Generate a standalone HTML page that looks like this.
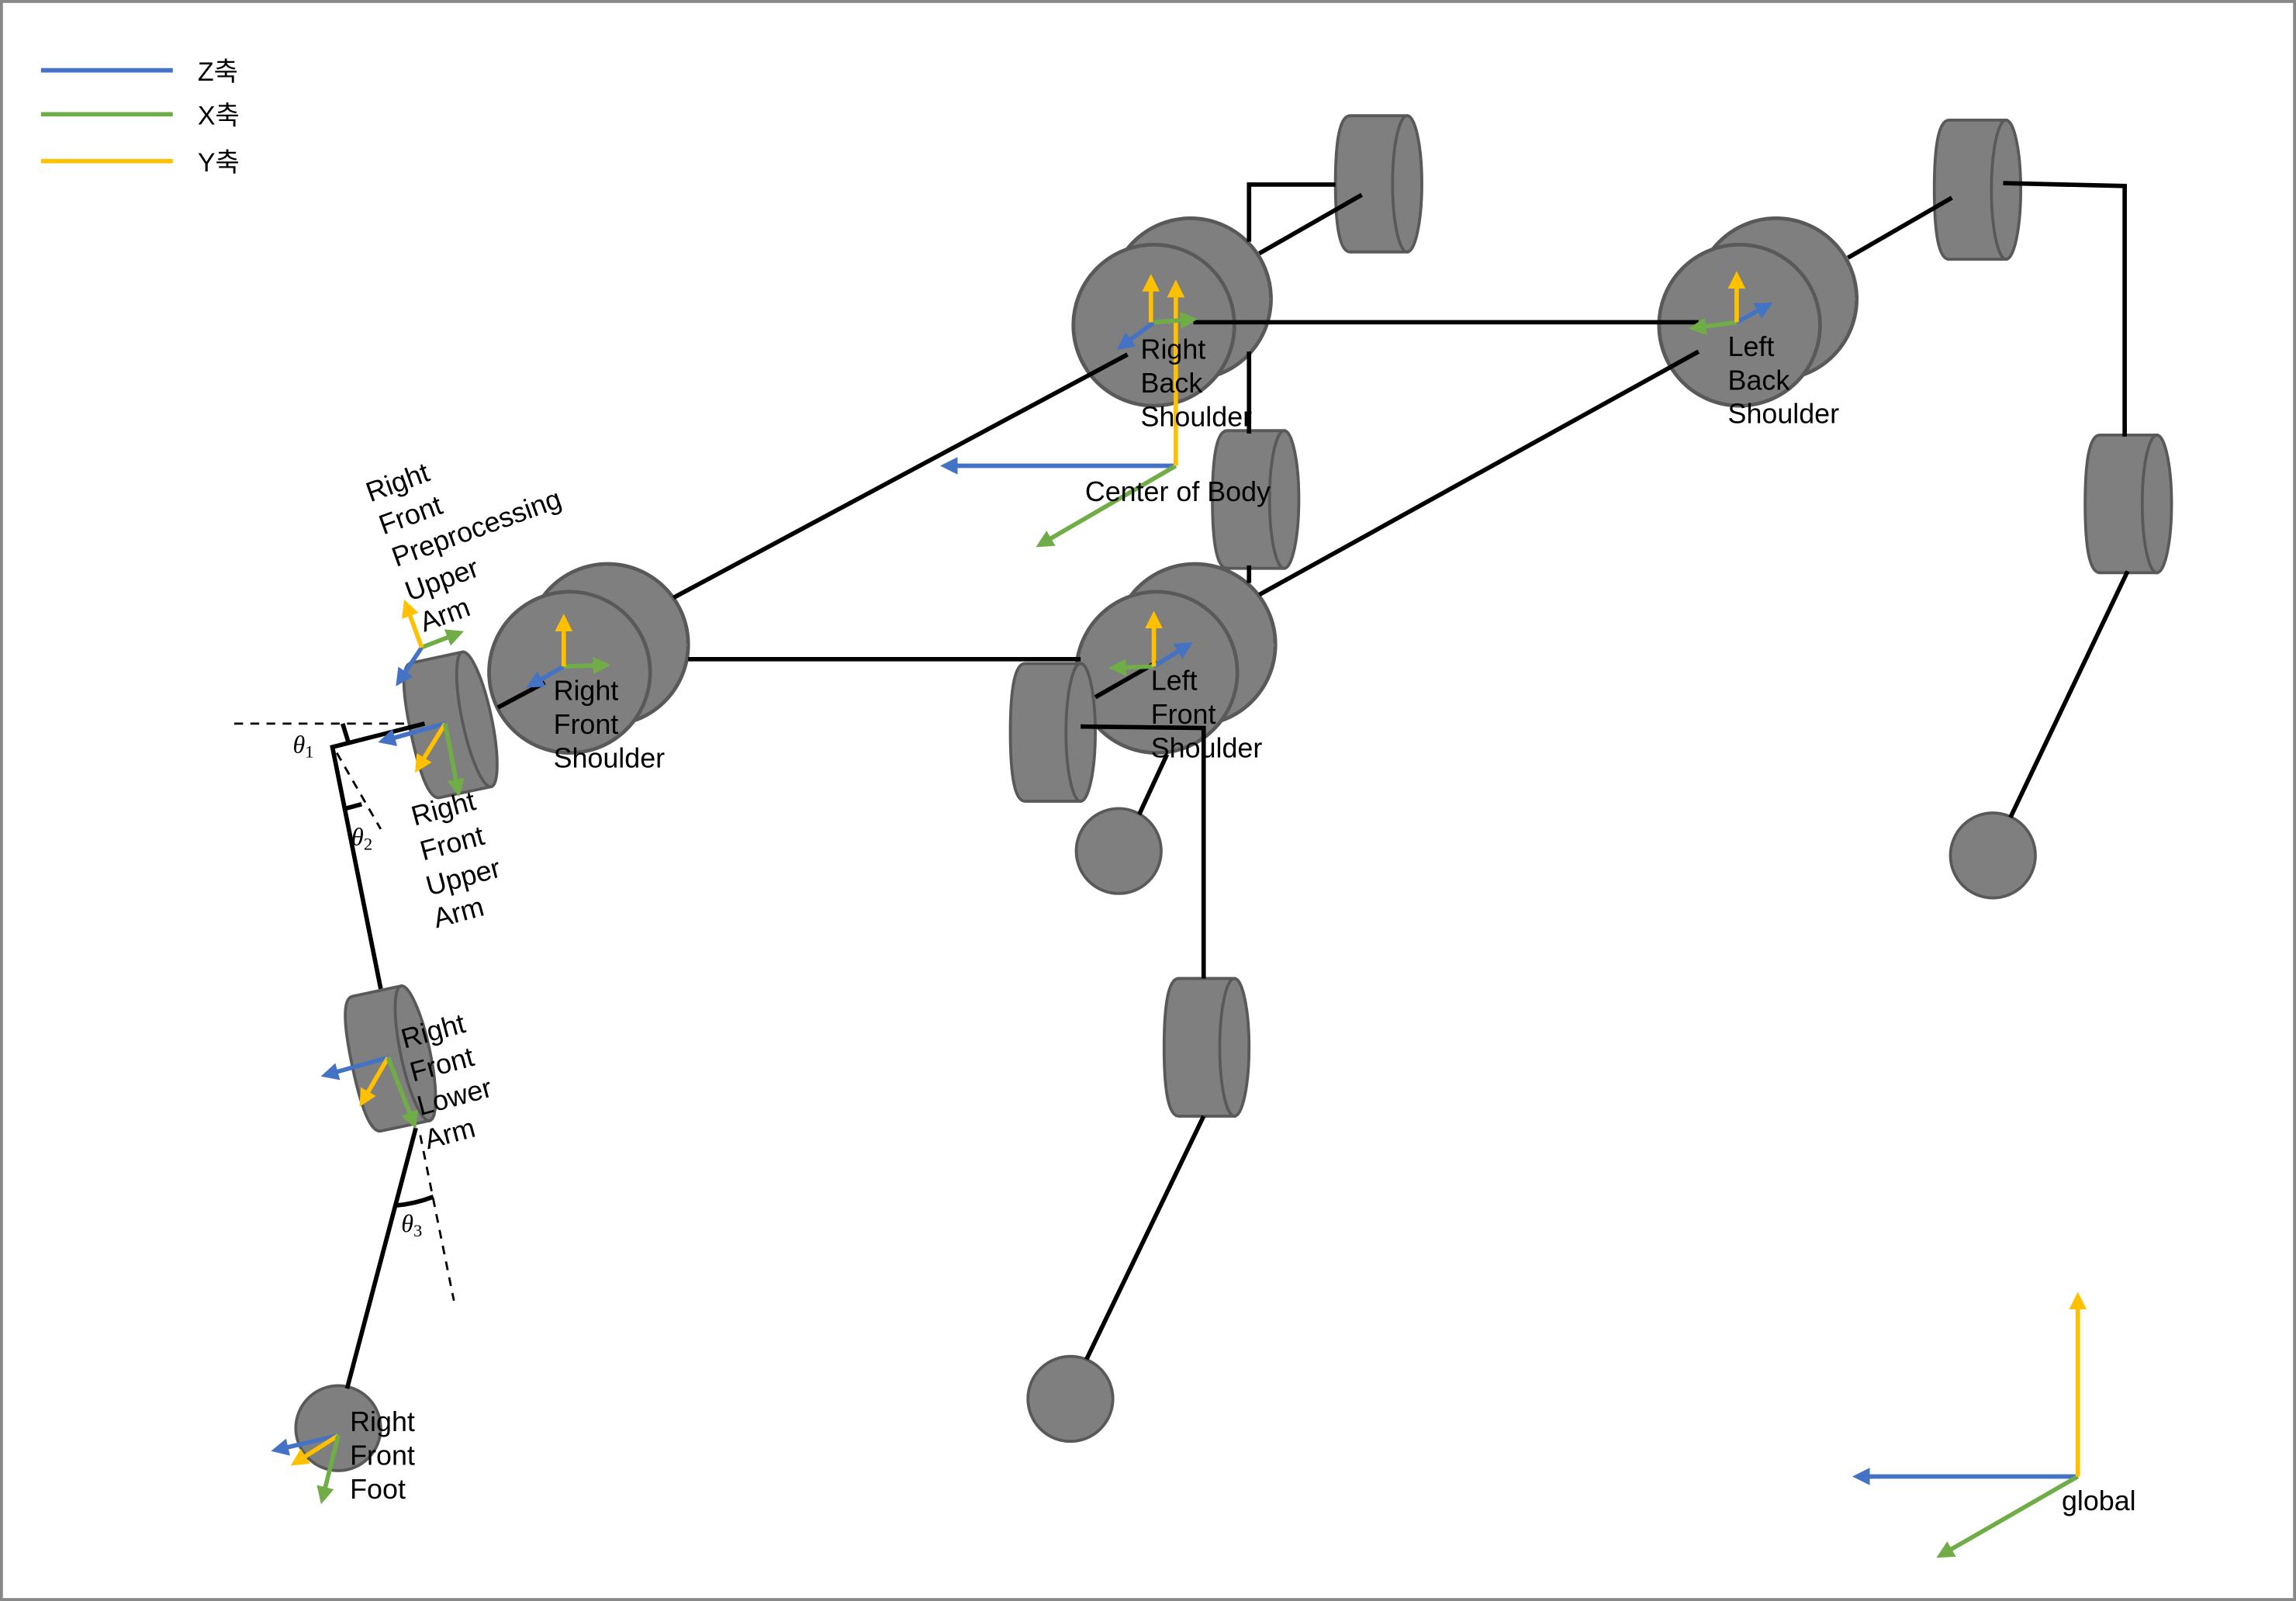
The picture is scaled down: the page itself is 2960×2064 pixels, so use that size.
<!DOCTYPE html>
<html><head><meta charset="utf-8"><style>html,body{margin:0;padding:0;background:#fff}svg{display:block}</style></head>
<body>
<svg width="2960" height="2064" viewBox="0 0 1568 1093" preserveAspectRatio="none" xmlns="http://www.w3.org/2000/svg" font-family="Liberation Sans, Noto Sans CJK KR, sans-serif">
<defs>
<marker id="mb" markerWidth="4" markerHeight="4" refX="3" refY="2" orient="auto" markerUnits="strokeWidth"><path d="M0,0 L4,2 L0,4 Z" fill="#4472C4"/></marker>
<marker id="mg" markerWidth="4" markerHeight="4" refX="3" refY="2" orient="auto" markerUnits="strokeWidth"><path d="M0,0 L4,2 L0,4 Z" fill="#70AD47"/></marker>
<marker id="my" markerWidth="4" markerHeight="4" refX="3" refY="2" orient="auto" markerUnits="strokeWidth"><path d="M0,0 L4,2 L0,4 Z" fill="#FFC000"/></marker>
</defs>
<rect x="1" y="1" width="1566" height="1091" fill="#fff" stroke="#888" stroke-width="2"/>
<!-- legend -->
<g stroke-width="3"><line x1="28" y1="48" x2="118" y2="48" stroke="#4472C4"/><line x1="28" y1="78" x2="118" y2="78" stroke="#70AD47"/><line x1="28" y1="110" x2="118" y2="110" stroke="#FFC000"/></g>
<g font-size="18" fill="#000"><text x="135" y="55">Z축</text><text x="135" y="85">X축</text><text x="135" y="117">Y축</text></g>

<g stroke="#000" stroke-width="1.5" fill="none" stroke-dasharray="6,5">
<line x1="160" y1="494" x2="305" y2="494"/>
<line x1="230" y1="514" x2="260" y2="566"/>
<line x1="287" y1="775" x2="310" y2="888"/>
</g>

<!-- big cylinders -->
<g fill="#7f7f7f" stroke="#595959" stroke-width="2.5">
<g><circle cx="415" cy="440" r="55"/><path d="M360,440 L334,458 L445,458 L470,440 Z" stroke="none"/><circle cx="389" cy="459" r="55"/></g>
<g><circle cx="816" cy="440" r="55"/><path d="M761,440 L735,459 L845,459 L871,440 Z" stroke="none"/><circle cx="790" cy="459" r="55"/></g>
<g><circle cx="813" cy="204" r="55"/><path d="M758,204 L733,222 L843,222 L868,204 Z" stroke="none"/><circle cx="788" cy="222" r="55"/></g>
<g><circle cx="1213" cy="204" r="55"/><path d="M1158,204 L1133,222 L1243,222 L1268,204 Z" stroke="none"/><circle cx="1188" cy="222" r="55"/></g>
</g>
<!-- small cylinders -->
<g fill="#7f7f7f" stroke="#595959" stroke-width="2">
<path d="M922,79 L961,79 L961,172 L922,172 Q912,172 912,125 Q912,79 922,79 Z"/><ellipse cx="961" cy="125.5" rx="10" ry="46.5"/>
<path d="M838,294 L877,294 L877,388 L838,388 Q828,388 828,341 Q828,294 838,294 Z"/><ellipse cx="877" cy="341" rx="10" ry="47"/>
<path d="M1434,297 L1473,297 L1473,391 L1434,391 Q1424,391 1424,344 Q1424,297 1434,297 Z"/><ellipse cx="1473" cy="344" rx="10" ry="47"/>
<path d="M1331,82 L1370,82 L1370,177 L1331,177 Q1321,177 1321,129 Q1321,82 1331,82 Z"/><ellipse cx="1370" cy="129.5" rx="10" ry="47.5"/>
<path d="M700,453 L738,453 L738,547 L700,547 Q690,547 690,500 Q690,453 700,453 Z"/><ellipse cx="738" cy="500" rx="10" ry="47"/>
<path d="M805,668 L843,668 L843,762 L805,762 Q795,762 795,715 Q795,668 805,668 Z"/><ellipse cx="843" cy="715" rx="10" ry="47"/>
<g transform="rotate(-12 312 494)"><path d="M290,447 L326,447 L326,541 L290,541 Q280,541 280,494 Q280,447 290,447 Z"/><ellipse cx="326" cy="494" rx="10" ry="47"/></g>
<g transform="rotate(-12 270 722)"><path d="M250,675 L284,675 L284,769 L250,769 Q240,769 240,722 Q240,675 250,675 Z"/><ellipse cx="284" cy="722" rx="10" ry="47"/></g>
<circle cx="764" cy="581" r="29"/><circle cx="1361" cy="584" r="29"/><circle cx="731" cy="955" r="29"/><circle cx="231" cy="975" r="29"/>
</g>

<!-- black links (on top) -->
<g stroke="#000" stroke-width="3" fill="none">
<line x1="460" y1="408" x2="770" y2="242"/>
<line x1="470" y1="450" x2="738" y2="450"/>
<line x1="860" y1="406" x2="1160" y2="240"/>
<line x1="815" y1="220" x2="1160" y2="220"/>
<line x1="860" y1="173" x2="930" y2="133"/>
<polyline points="912,126 853,126 853,165"/>
<line x1="853" y1="240" x2="853" y2="296"/>
<line x1="853" y1="386" x2="853" y2="398"/>
<line x1="1262" y1="176" x2="1333" y2="135"/>
<polyline points="1368,125 1451,127 1451,298"/>
<line x1="1453" y1="390" x2="1373" y2="558"/>
<line x1="748" y1="476" x2="790" y2="452"/>
<polyline points="738,496 822,497 822,668"/>
<line x1="822" y1="762" x2="742" y2="928"/>
<line x1="797" y1="515" x2="778" y2="556"/>
<line x1="340" y1="483" x2="372" y2="466"/>
<polyline points="290,494 227,510 260,675"/>
<line x1="284" y1="770" x2="237" y2="948"/>
<line x1="234" y1="494" x2="238" y2="507"/>
<line x1="236" y1="552" x2="247" y2="549"/>
<path d="M270,823 Q283,822 296,817"/>
</g>

<!-- axis arrows -->
<g stroke-width="3" fill="none">
<line x1="803" y1="318" x2="645" y2="318" stroke="#4472C4" marker-end="url(#mb)"/>
<line x1="803" y1="318" x2="710" y2="372" stroke="#70AD47" marker-end="url(#mg)"/>
<line x1="803" y1="318" x2="803" y2="194" stroke="#FFC000" marker-end="url(#my)"/>
<line x1="788" y1="220" x2="765" y2="237" stroke="#4472C4" marker-end="url(#mb)"/>
<line x1="788" y1="220" x2="815" y2="218" stroke="#70AD47" marker-end="url(#mg)"/>
<line x1="786" y1="220" x2="786" y2="190" stroke="#FFC000" marker-end="url(#my)"/>
<line x1="1186" y1="220" x2="1208" y2="208" stroke="#4472C4" marker-end="url(#mb)"/>
<line x1="1186" y1="220" x2="1156" y2="224" stroke="#70AD47" marker-end="url(#mg)"/>
<line x1="1186" y1="220" x2="1186" y2="188" stroke="#FFC000" marker-end="url(#my)"/>
<line x1="385" y1="455" x2="362" y2="468" stroke="#4472C4" marker-end="url(#mb)"/>
<line x1="385" y1="455" x2="414" y2="454" stroke="#70AD47" marker-end="url(#mg)"/>
<line x1="385" y1="455" x2="385" y2="422" stroke="#FFC000" marker-end="url(#my)"/>
<line x1="788" y1="455" x2="812" y2="440" stroke="#4472C4" marker-end="url(#mb)"/>
<line x1="788" y1="455" x2="760" y2="456" stroke="#70AD47" marker-end="url(#mg)"/>
<line x1="788" y1="455" x2="788" y2="420" stroke="#FFC000" marker-end="url(#my)"/>
<line x1="288" y1="442" x2="272" y2="466" stroke="#4472C4" marker-end="url(#mb)"/>
<line x1="288" y1="442" x2="314" y2="432" stroke="#70AD47" marker-end="url(#mg)"/>
<line x1="288" y1="442" x2="277" y2="412" stroke="#FFC000" marker-end="url(#my)"/>
<line x1="304" y1="494" x2="261" y2="506" stroke="#4472C4" marker-end="url(#mb)"/>
<line x1="304" y1="494" x2="285" y2="525" stroke="#FFC000" marker-end="url(#my)"/>
<line x1="304" y1="494" x2="313" y2="541" stroke="#70AD47" marker-end="url(#mg)"/>
<line x1="265" y1="722" x2="222" y2="734" stroke="#4472C4" marker-end="url(#mb)"/>
<line x1="265" y1="722" x2="247" y2="753" stroke="#FFC000" marker-end="url(#my)"/>
<line x1="265" y1="722" x2="283" y2="768" stroke="#70AD47" marker-end="url(#mg)"/>
<line x1="231" y1="980" x2="188" y2="990" stroke="#4472C4" marker-end="url(#mb)"/>
<line x1="231" y1="980" x2="201" y2="999" stroke="#FFC000" marker-end="url(#my)"/>
<line x1="231" y1="980" x2="220" y2="1024" stroke="#70AD47" marker-end="url(#mg)"/>
<line x1="1419" y1="1008" x2="1268" y2="1008" stroke="#4472C4" marker-end="url(#mb)"/>
<line x1="1419" y1="1008" x2="1325" y2="1062" stroke="#70AD47" marker-end="url(#mg)"/>
<line x1="1419" y1="1008" x2="1419" y2="885" stroke="#FFC000" marker-end="url(#my)"/>
</g>

<!-- labels -->
<g font-size="19" fill="#000">
<text x="779" y="245">Right</text><text x="779" y="268">Back</text><text x="779" y="291">Shoulder</text>
<text x="1180" y="243">Left</text><text x="1180" y="266">Back</text><text x="1180" y="289">Shoulder</text>
<text x="741" y="342">Center of Body</text>
<text x="378" y="478">Right</text><text x="378" y="501">Front</text><text x="378" y="524">Shoulder</text>
<text x="786" y="471">Left</text><text x="786" y="494">Front</text><text x="786" y="517">Shoulder</text>
<text x="239" y="977">Right</text><text x="239" y="1000">Front</text><text x="239" y="1023">Foot</text>
<text x="1408" y="1031">global</text>
<g transform="rotate(-20 255 340)"><text x="252" y="342">Right</text></g>
<g transform="rotate(-20 262 363)"><text x="261" y="365">Front</text></g>
<g transform="rotate(-20 268 386)"><text x="270" y="388">Preprocessing</text></g>
<g transform="rotate(-20 278 409)"><text x="279" y="411">Upper</text></g>
<g transform="rotate(-20 288 430)"><text x="289" y="432">Arm</text></g>
<g transform="rotate(-15 282 560)"><text x="282" y="564">Right</text></g>
<g transform="rotate(-15 287 584)"><text x="288" y="588">Front</text></g>
<g transform="rotate(-15 291 608)"><text x="292" y="612">Upper</text></g>
<g transform="rotate(-15 296 630)"><text x="297" y="634">Arm</text></g>
<g transform="rotate(-15 275 712)"><text x="275" y="716">Right</text></g>
<g transform="rotate(-15 280 735)"><text x="281" y="739">Front</text></g>
<g transform="rotate(-15 285 758)"><text x="286" y="762">Lower</text></g>
<g transform="rotate(-15 290 781)"><text x="291" y="785">Arm</text></g>
</g>
<g font-family="Liberation Serif, serif" font-style="italic" font-size="17" fill="#000">
<text x="200" y="514">θ<tspan font-style="normal" font-size="12" dy="3">1</tspan></text>
<text x="240" y="577">θ<tspan font-style="normal" font-size="12" dy="3">2</tspan></text>
<text x="274" y="841">θ<tspan font-style="normal" font-size="12" dy="3">3</tspan></text>
</g>
</svg>
</body></html>
